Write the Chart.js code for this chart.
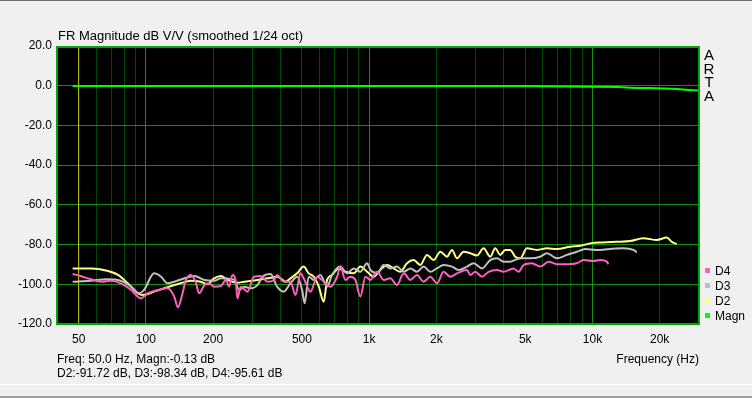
<!DOCTYPE html>
<html>
<head>
<meta charset="utf-8">
<script src="https://cdn.jsdelivr.net/npm/chart.js@4.4.1/dist/chart.umd.min.js"></script>
<style>
  html, body { margin: 0; padding: 0; background: #f0f0f0; }
  #wrap { position: relative; width: 752px; height: 398px; }
</style>
</head>
<body>
<div id="wrap"><canvas id="fr" width="752" height="398"></canvas></div>
<script>
// Harmonic distortion traces (Hz / dB)
const d2Freq = [47,57,67,75,83,92,97,109,125,143,159,176,189,202,217,232,257,276,316,350,388,401,422,444,476,509,536,565,595,626,648,682,730,783,853,913,979,1048,1122,1203,1287,1379,1477,1582,1695,1816,1944,2083,2231,2349,2474,2647,2837,3039,3254,3485,3669,3864,4068,4282,4510,4748,5087,5640,6252,6930,7948,8809,9766,11200,12860,14750,16920,19420,21530,22660,23860];
const d2Db = [-92.0,-92.0,-93.2,-95.3,-99.5,-104.5,-105.4,-103.7,-101.5,-99.5,-98.2,-98.7,-100.0,-97.0,-95.8,-97.8,-99.2,-98.7,-97.8,-97.0,-96.2,-97.0,-98.7,-97.0,-94.5,-91.1,-94.5,-96.2,-101.2,-108.8,-97.8,-95.3,-92.0,-93.7,-94.5,-91.1,-93.7,-96.2,-92.8,-90.3,-92.0,-93.7,-89.4,-87.8,-90.3,-85.2,-87.8,-83.6,-86.1,-82.7,-86.9,-83.6,-84.4,-85.5,-81.9,-86.1,-81.9,-85.2,-82.7,-82.7,-86.1,-86.9,-81.9,-82.7,-81.9,-82.2,-81.1,-80.6,-79.4,-78.9,-78.6,-78.2,-76.8,-77.7,-76.5,-78.6,-79.7];

const d3Freq = [47,56.5,67,77,86,93,98,109,117,125,134,149,165,183,202,217,249,262,276,295,316,333,362,387,414,444,476,501,514,536,565,605,648,682,743,796,853,913,979,1013,1085,1161,1244,1333,1427,1529,1638,1753,1878,2012,2154,2349,2514,2742,2935,3200,3485,3735,3998,4282,4748,5263,5834,6252,6930,7681,8515,9276,10460,12000,13760,15260,15800];
const d3Db = [-98.7,-98.2,-97.5,-98.2,-101.2,-104.5,-102.9,-94.5,-96.2,-99.5,-98.7,-97.0,-95.8,-97.8,-98.2,-97.0,-97.8,-102.9,-101.2,-102.0,-100.4,-96.2,-94.8,-101.2,-103.7,-99.5,-96.2,-102.9,-109.6,-96.2,-97.8,-95.3,-101.2,-95.3,-91.1,-94.5,-92.0,-93.7,-89.4,-92.8,-94.5,-90.3,-92.0,-91.1,-93.7,-92.0,-93.7,-91.1,-93.7,-92.0,-90.3,-91.1,-92.8,-91.1,-89.4,-92.0,-87.8,-86.9,-88.6,-88.6,-86.9,-86.9,-86.1,-84.4,-86.9,-85.2,-83.6,-82.2,-82.7,-82.2,-81.9,-82.7,-83.9];

const d4Freq = [47,51,56.7,63,70,77,86,92,95,102,113,125,134,139,146,151,159,167,173,183,192,202,217,228,236,244,253,257,266,285,305,327,350,375,387,414,444,468,492,509,546,585,626,671,719,743,783,824,868,913,962,1013,1085,1161,1244,1333,1427,1529,1638,1753,1878,2012,2154,2308,2474,2742,2837,2988,3200,3425,3735,3998,4432,4667,4913,5357,5834,6357,6930,7681,8515,9117,10100,10830,11600,11790];
const d4Db = [-94.8,-95.8,-97.5,-98.7,-98.2,-99.5,-102.9,-106.2,-107.1,-104.5,-102.9,-102.0,-106.2,-111.6,-104.5,-97.8,-95.3,-98.7,-104.5,-100.4,-99.5,-101.2,-100.9,-97.8,-101.2,-95.3,-98.7,-107.1,-101.2,-103.7,-96.2,-95.8,-98.7,-97.8,-95.3,-98.7,-98.7,-105.4,-94.5,-97.0,-103.7,-96.2,-98.7,-101.2,-96.2,-91.1,-97.8,-96.2,-97.8,-106.2,-96.2,-97.8,-93.7,-97.8,-97.0,-100.4,-94.5,-97.8,-95.3,-98.7,-96.2,-99.5,-93.7,-96.2,-94.5,-92.8,-95.3,-93.7,-96.2,-93.7,-92.8,-93.7,-92.0,-93.7,-90.3,-89.4,-91.1,-88.6,-89.9,-89.9,-89.4,-87.8,-88.3,-87.8,-88.6,-89.9];

// Fundamental magnitude
const magnFreq = [47,100,1000,5000,7500,10000,13000,15500,18000,21000,24000,27000,30000];
const magnDb = [-0.13,-0.13,-0.15,-0.2,-0.4,-0.5,-0.7,-1.1,-1.2,-1.4,-1.7,-2.1,-2.4];

const cursorFreq = 50;

// axes
const gridFreqs = [50,60,70,80,90,100,200,300,400,500,600,700,800,900,1000,2000,3000,4000,5000,6000,7000,8000,9000,10000,20000];
const tickLabelFreqs = [50,100,200,500,1000,2000,5000,10000,20000];
const tickLabelText = ['50','100','200','500','1k','2k','5k','10k','20k'];
const decadeFreqs = [100,1000,10000];

const CORES = { D4: '#ff5fc0', D3: '#c0c0c0', D2: '#ffff80', Magn: '#00ff00' };

const pares = (fs, vs) => fs.map((f, i) => ({ x: f, y: vs[i] }));

const traco = (label, fs, vs) => ({
    label: label,
    data: pares(fs, vs),
    borderColor: CORES[label],
    borderWidth: 2,
    pointRadius: 0,
    cubicInterpolationMode: 'monotone',
    fill: false
});

const FONTE = '"Liberation Sans", Arial, sans-serif';

// fundo, moldura e textos no estilo do ARTA
const artaFrame = {
    id: 'artaFrame',
    beforeDraw(chart) {
        const { ctx, chartArea: a } = chart;
        ctx.save();
        ctx.fillStyle = '#f0f0f0';
        ctx.fillRect(0, 0, chart.width, chart.height);
        ctx.fillStyle = '#6d6d6d';
        ctx.fillRect(0, 0, chart.width, 1);
        ctx.fillStyle = '#ffffff';
        ctx.fillRect(0, 384, chart.width, 1);
        ctx.fillStyle = '#a0a0a0';
        ctx.fillRect(0, 396, chart.width, 2);
        ctx.fillStyle = '#000000';
        ctx.fillRect(a.left, a.top, a.right - a.left, a.bottom - a.top);
        ctx.restore();
    },
    afterDraw(chart) {
        const { ctx, chartArea: a } = chart;
        ctx.save();
        ctx.strokeStyle = '#00a800';
        ctx.lineWidth = 2;
        ctx.strokeRect(a.left, a.top + 1, a.right - a.left, a.bottom - a.top - 1);

        ctx.fillStyle = '#000';
        ctx.textBaseline = 'alphabetic';
        ctx.textAlign = 'left';
        ctx.font = '13px ' + FONTE;
        ctx.fillText('FR Magnitude dB V/V (smoothed 1/24 oct)', a.left + 1, a.top - 6);

        ctx.font = '12px ' + FONTE;
        ctx.fillText('Freq: 50.0 Hz, Magn:-0.13 dB', a.left, a.bottom + 39);
        ctx.fillText('D2:-91.72 dB, D3:-98.34 dB, D4:-95.61 dB', a.left, a.bottom + 53);
        ctx.textAlign = 'right';
        ctx.fillText('Frequency (Hz)', a.right, a.bottom + 39);

        // ARTA vertical
        ctx.textAlign = 'center';
        ctx.font = '15px ' + FONTE;
        ['A', 'R', 'T', 'A'].forEach((l, i) => ctx.fillText(l, a.right + 10, a.top + 14 + i * 13.6));

        // legenda
        ctx.textAlign = 'left';
        ctx.font = '12px ' + FONTE;
        const itens = chart.data.datasets.filter(d => CORES[d.label]);
        itens.forEach((d, i) => {
            const y = a.bottom - 54 + i * 15;
            ctx.fillStyle = d.borderColor;
            ctx.fillRect(a.right + 6, y - 2, 5, 5);
            ctx.fillStyle = '#000';
            ctx.fillText(d.label, a.right + 16, y + 4.5);
        });
        ctx.restore();
    }
};

new Chart(document.getElementById('fr'), {
    type: 'line',
    data: {
        datasets: [
            traco('D4', d4Freq, d4Db),
            traco('D3', d3Freq, d3Db),
            traco('D2', d2Freq, d2Db),
            {
                label: 'Magn',
                data: pares(magnFreq, magnDb),
                borderColor: CORES.Magn,
                borderWidth: 2,
                pointRadius: 0,
                fill: false
            },
            {
                label: 'cursor',
                data: [{ x: cursorFreq, y: -120 }, { x: cursorFreq, y: 20 }],
                borderColor: '#c8c800',
                borderWidth: 1,
                pointRadius: 0,
                fill: false
            }
        ]
    },
    options: {
        responsive: false,
        animation: false,
        devicePixelRatio: 1,
        layout: { padding: { top: 46, right: 53, left: 0, bottom: 0 } },
        plugins: {
            legend: { display: false },
            tooltip: { enabled: false }
        },
        scales: {
            x: {
                type: 'logarithmic',
                min: 40,
                max: 30000,
                afterBuildTicks: (scale) => { scale.ticks = gridFreqs.map(v => ({ value: v })); },
                afterFit: (scale) => { scale.height = 74; },
                grid: {
                    color: (c) => decadeFreqs.includes(c.tick && c.tick.value) ? '#109010' : '#004800',
                    drawTicks: false
                },
                border: { display: false },
                ticks: {
                    autoSkip: false,
                    maxRotation: 0,
                    minRotation: 0,
                    padding: 8,
                    color: '#000',
                    font: { family: FONTE, size: 12 },
                    callback: (v) => {
                        const i = tickLabelFreqs.indexOf(v);
                        return i >= 0 ? tickLabelText[i] : '';
                    }
                }
            },
            y: {
                min: -120,
                max: 20,
                afterFit: (scale) => { scale.width = 57; },
                grid: { color: '#109010', drawTicks: false },
                border: { display: false },
                ticks: {
                    stepSize: 20,
                    padding: 5,
                    color: '#000',
                    font: { family: FONTE, size: 12 },
                    callback: (v) => v.toFixed(1)
                }
            }
        }
    },
    plugins: [artaFrame]
});
</script>
</body>
</html>
